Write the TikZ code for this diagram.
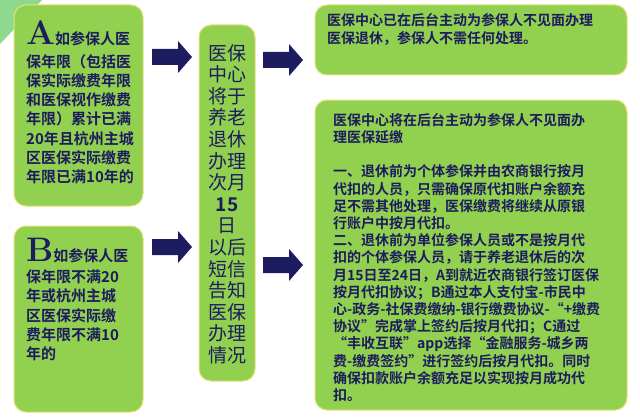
\documentclass[tikz,border=0pt]{standalone}
\usepackage{fontspec}
\newfontfamily\cjk{Noto Sans CJK SC}[BoldFont={Noto Sans CJK SC Bold}]
\definecolor{gbox}{HTML}{92D050}
\definecolor{gline}{HTML}{E2E27A}
\definecolor{navy}{HTML}{1C1C5E}
\definecolor{tri}{HTML}{8FD98F}
\tikzset{
 gb/.style={draw=gline,line width=1pt,fill=gbox,rounded corners=12pt},
 txt/.style={text=navy,font=\cjk\bfseries,align=left,inner sep=0pt},
 blockarr/.style={fill=navy}
}
\newcommand\blkarrow[1]{\fill[blockarr] ($(#1)+(-20,-8)$) -- ++(26,0) -- ++(0,-8) -- ++(14,16) -- ++(-14,16) -- ++(0,-8) -- ++(-26,0) -- cycle;}
\usetikzlibrary{calc}
\begin{document}
\begin{tikzpicture}[x=1pt,y=-1pt]
\useasboundingbox (0,0) rectangle (640,420);
\fill[white] (0,0) rectangle (640,420);
\fill[tri] (0,0) -- (42,0) -- (0,44) -- cycle;
\draw[gb] (14,5) rectangle (143,206);
\draw[gb] (14,226) rectangle (143,412);
\draw[gb] (199,25) rectangle (255,381);
\draw[gb] (315,5) rectangle (627,75);
\draw[gb] (315,100) rectangle (627,410);
\node[txt,anchor=north west,font=\cjk\bfseries\fontsize{15}{19.2}\selectfont] (ta) at (26,20)
 {{\fontsize{34}{34}\selectfont\textrm{A}}如参保人医\\[4pt]保年限（包括医\\保实际缴费年限\\和医保视作缴费\\年限）累计已满\\20年且杭州主城\\区医保实际缴费\\年限已满10年的};
\node[txt,anchor=north west,font=\cjk\bfseries\fontsize{15}{19.2}\selectfont] (tb) at (26,238)
 {{\fontsize{34}{34}\selectfont\textrm{B}}如参保人医\\[2pt]保年限不满20\\年或杭州主城\\区医保实际缴\\费年限不满10\\年的};
\node[txt,anchor=north,align=center,font=\cjk\fontsize{19}{21.6}\selectfont] (tm) at (227,44)
 {医保\\中心\\将于\\养老\\退休\\办理\\次月\\\textbf{15}\\日\\以后\\短信\\告知\\医保\\办理\\情况};
\node[txt,anchor=north west,font=\cjk\bfseries\fontsize{14}{18}\selectfont] (t1) at (327,13)
 {医保中心已在后台主动为参保人不见面办理\\医保退休，参保人不需任何处理。};
\node[txt,anchor=north west,font=\cjk\bfseries\fontsize{14}{17.2}\selectfont] (t2) at (333,113)
 {医保中心将在后台主动为参保人不见面办\\理医保延缴\\[17.2pt]一、退休前为个体参保并由农商银行按月\\代扣的人员，只需确保原代扣账户余额充\\足不需其他处理，医保缴费将继续从原银\\行账户中按月代扣。\\二、退休前为单位参保人员或不是按月代\\扣的个体参保人员，请于养老退休后的次\\月15日至24日，A到就近农商银行签订医保\\按月代扣协议；B通过本人支付宝-市民中\\心-政务-社保费缴纳-银行缴费协议-“+缴费\\协议”完成掌上签约后按月代扣；C通过\\“丰收互联”app选择“金融服务-城乡两\\费-缴费签约”进行签约后按月代扣。同时\\确保扣款账户余额充足以实现按月成功代\\扣。};
\coordinate (a1) at (172,57);
\coordinate (a2) at (172,247);
\coordinate (a3) at (283,60);
\coordinate (a4) at (283,265);
\blkarrow{a1}\blkarrow{a2}\blkarrow{a3}\blkarrow{a4}
\end{tikzpicture}
\end{document}
